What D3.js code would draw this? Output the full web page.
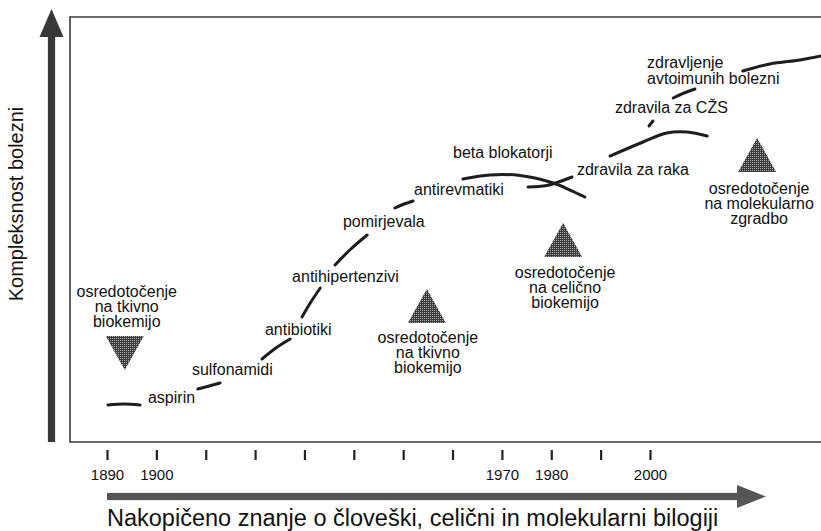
<!DOCTYPE html>
<html><head><meta charset="utf-8">
<script src="https://cdn.jsdelivr.net/npm/d3@7"></script>
<style>
html,body{margin:0;padding:0;background:#fff;}
svg{display:block;font-family:"Liberation Sans",Arial,Helvetica,sans-serif;}
</style></head>
<body>
<script>
// ---------- DATA ----------
const tickYears = [1890,1900,1910,1920,1930,1940,1950,1960,1970,1980,1990,2000];
const labeledYears = [1890,1900,1970,1980,2000];

// progress curve segments: [year, complexity]
const segAspirin   = [[1890.2,8.71],[1893.4,8.94],[1896.7,8.71]];
const segSulfa     = [[1908.4,12.47],[1910.7,13.18],[1912.9,13.88]];
const segAntibio   = [[1921.4,19.53],[1924.2,22.12],[1927.1,24.24]];
const segAntihip   = [[1929.5,29.41],[1931.3,32.94],[1933.2,36.24]];
const segPomir     = [[1936.2,41.65],[1939.4,45.41],[1942.7,48.71]];
const segAntirev   = [[1948.3,55.06],[1950.2,56.0],[1952.0,56.71]];
const segBeta      = [[1962.1,61.88],[1967.6,62.82],[1973.7,62.71],[1980.4,60.94],[1983.8,59.29],[1986.8,57.65]];
const segRakaIn    = [[1975.3,60.0],[1979.1,60.35],[1984.2,62.35]];
const segRaka      = [[1991.9,67.29],[1998.6,70.59],[2003.4,72.71],[2007.5,72.94],[2011.6,72.0]];
const segCzsDot    = [[1999.8,74.35],[2000.6,75.53]];
const segCzs       = [[2004.7,80.94],[2006.9,82.12],[2009.1,83.06]];
const segAvto      = [[2018.8,87.29],[2024.3,88.94],[2030.4,89.88],[2034.7,90.82]];
const segments = [segAspirin,segSulfa,segAntibio,segAntihip,segPomir,segAntirev,segBeta,segRakaIn,segRaka,segCzsDot,segCzs,segAvto];

// drug class labels
const drugNames  = ["aspirin","sulfonamidi","antibiotiki","antihipertenzivi","pomirjevala","antirevmatiki","beta blokatorji","zdravila za raka","zdravila za CŽS","zdravljenje","avtoimunih bolezni"];
const drugYears  = [1898.3,1907.2,1922.0,1927.5,1937.8,1952.2,1960.1,1985.2,1992.9,1999.4,1999.4];
const drugValues = [9.18,15.76,25.18,37.65,50.6,58.12,66.82,62.82,77.41,88.0,84.24];

// research focus markers
const focusLabels = [
  ["osredotočenje","na tkivno","biokemijo"],
  ["osredotočenje","na tkivno","biokemijo"],
  ["osredotočenje","na celično","biokemijo"],
  ["osredotočenje","na molekularno","zgradbo"]
];
const focusYears      = [1893.6,1954.8,1982.4,2021.7];
const focusValues     = [24.94,28.0,43.53,63.53];   // edge of triangle nearest the label side
const focusDirection  = ["down","up","up","up"];
const focusLabelYears = [1894.0,1955.0,1982.8,2022.1];
const focusLabelVals  = [34.12,23.29,38.59,58.35];

const xTitle = "Nakopičeno znanje o človeški, celični in molekularni bilogiji";
const yTitle = "Kompleksnost bolezni";

// ---------- CHART ----------
const W = 821, H = 531;
const frame = {left:70, top:17, right:821, bottom:442};
const x = d3.scaleLinear().domain([1890,2000]).range([107,650]);
const y = d3.scaleLinear().domain([0,100]).range([frame.bottom, frame.top]);

const svg = d3.select("body").append("svg").attr("width",W).attr("height",H);
const defs = svg.append("defs");
const pat = defs.append("pattern").attr("id","halftone").attr("patternUnits","userSpaceOnUse")
  .attr("width",2).attr("height",2);
pat.append("rect").attr("width",2).attr("height",2).attr("fill","#3c3c3c");
pat.append("rect").attr("width",1).attr("height",1).attr("fill","#a8a8a8");
defs.append("clipPath").attr("id","clip").append("rect")
  .attr("x",frame.left).attr("y",frame.top).attr("width",frame.right-frame.left).attr("height",frame.bottom-frame.top);

// frame (left, top, bottom)
svg.append("path")
  .attr("d",`M${frame.right},${frame.top}H${frame.left}V${frame.bottom}H${frame.right}`)
  .attr("fill","none").attr("stroke","#3a3a3a").attr("stroke-width",1.6);

// vertical big arrow
const vx = 51.5;
svg.append("rect").attr("x",vx-3.6).attr("y",36).attr("width",7.2).attr("height",frame.bottom-36)
  .attr("fill","#383838");
svg.append("path").attr("d",`M${vx-12},37L${vx+12},37L${vx},9Z`).attr("fill","#383838");

// horizontal big arrow
const ay = 496.5;
svg.append("rect").attr("x",x(1890)).attr("y",ay-3.6).attr("width",737-x(1890)).attr("height",7.2)
  .attr("fill","#555");
svg.append("path").attr("d",`M737,${ay-11.5}L737,${ay+11.5}L766,${ay}Z`).attr("fill","#555");

// x axis ticks
const axis = d3.axisBottom(x).tickValues(tickYears).tickSize(10).tickPadding(9)
  .tickFormat(d => labeledYears.includes(d) ? String(d) : "");
const gx = svg.append("g").attr("transform",`translate(0,450)`).call(axis);
gx.select(".domain").remove();
gx.selectAll(".tick line").attr("stroke","#222").attr("stroke-width",2.2);
gx.selectAll(".tick text").attr("font-size",15).attr("fill","#111")
  .attr("font-family","\"Liberation Sans\",Arial,sans-serif");

// curve segments
const line = d3.line().x(d=>x(d[0])).y(d=>y(d[1])).curve(d3.curveCatmullRom.alpha(0.5));
svg.append("g").attr("clip-path","url(#clip)").selectAll("path").data(segments).join("path")
  .attr("d",line).attr("fill","none").attr("stroke","#1e1e1e").attr("stroke-width",3)
  .attr("stroke-linecap","round");

// drug labels
svg.append("g").selectAll("text").data(drugNames).join("text")
  .attr("x",(d,i)=>x(drugYears[i])).attr("y",(d,i)=>y(drugValues[i]))
  .attr("font-size",16).attr("fill","#111").text(d=>d);

// focus triangles
const tw = 38, th = 34;
svg.append("g").selectAll("path").data(focusYears).join("path")
  .attr("d",(d,i)=>{
    const cx = x(d), e = y(focusValues[i]);
    if (focusDirection[i]==="down") return `M${cx-tw/2},${e}L${cx+tw/2},${e}L${cx},${e+th}Z`;
    return `M${cx-tw/2},${e}L${cx+tw/2},${e}L${cx},${e-th}Z`;
  })
  .attr("fill","url(#halftone)");

// focus labels
const fl = svg.append("g").selectAll("text").data(focusLabels).join("text")
  .attr("text-anchor","middle").attr("font-size",16).attr("fill","#111")
  .attr("x",(d,i)=>x(focusLabelYears[i])).attr("y",(d,i)=>y(focusLabelVals[i]));
fl.selectAll("tspan").data((d,i)=>d.map(t=>({t,i}))).join("tspan")
  .attr("x",d=>x(focusLabelYears[d.i])).attr("dy",(d,j)=>j===0?0:15).text(d=>d.t);

// axis titles
svg.append("text").attr("x",x(1890)).attr("y",526).attr("font-size",23.5).attr("fill","#111").text(xTitle);
svg.append("text").attr("transform","translate(23,204) rotate(-90)").attr("text-anchor","middle")
  .attr("font-size",20).attr("fill","#111").text(yTitle);
</script>
</body></html>
